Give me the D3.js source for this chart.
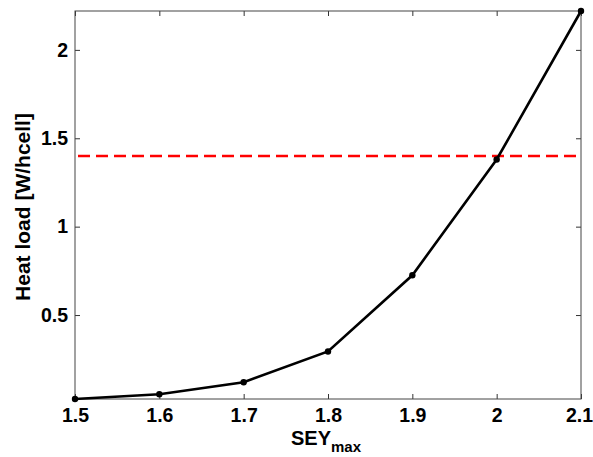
<!DOCTYPE html>
<html><head><meta charset="utf-8">
<script src="https://cdn.jsdelivr.net/npm/d3@7/dist/d3.min.js"></script>
<style>body{margin:0;background:#fff}svg{display:block}text{font-family:"Liberation Sans",Arial,sans-serif;font-weight:bold}</style>
</head><body>
<script>
const sey = [1.5, 1.6, 1.7, 1.8, 1.9, 2.0, 2.1];
const heatLoad = [0.025, 0.052, 0.12, 0.294, 0.725, 1.38, 2.22];
const threshold = 1.4;
const xTicks = [1.5, 1.6, 1.7, 1.8, 1.9, 2.0, 2.1];
const yTicks = [0.5, 1, 1.5, 2];

const W = 593, H = 457;
const m = {left: 75, top: 11, right: 581, bottom: 399};
const svg = d3.select("body").append("svg").attr("width", W).attr("height", H);
const x = d3.scaleLinear().domain([1.5, 2.1]).range([m.left, m.right]);
const y = d3.scaleLinear().domain([0.025, 2.22]).range([m.bottom, m.top]);

const fmt = d => d3.format("")(+d.toFixed(1));
const tl = 5;
const gB = svg.append("g").attr("transform", `translate(0,${m.bottom})`)
  .call(d3.axisBottom(x).tickValues(xTicks).tickFormat(fmt).tickSizeInner(-tl).tickSizeOuter(0).tickPadding(9));
const gT = svg.append("g").attr("transform", `translate(0,${m.top})`)
  .call(d3.axisTop(x).tickValues(xTicks).tickFormat("").tickSizeInner(-tl).tickSizeOuter(0));
const gL = svg.append("g").attr("transform", `translate(${m.left},0)`)
  .call(d3.axisLeft(y).tickValues(yTicks).tickFormat(fmt).tickSizeInner(-tl).tickSizeOuter(0).tickPadding(7));
const gR = svg.append("g").attr("transform", `translate(${m.right},0)`)
  .call(d3.axisRight(y).tickValues(yTicks).tickFormat("").tickSizeInner(-tl).tickSizeOuter(0));
[gB, gT, gL, gR].forEach(g => {
  g.select(".domain").remove();
  g.selectAll(".tick line").attr("stroke", "#333").attr("stroke-width", 1);
  g.selectAll("text").attr("font-size", 19.5).attr("fill", "#000").attr("font-family", null);
});
gB.selectAll(".tick text").filter(d => d === 2.1).attr("dx", -2);
svg.append("rect").attr("x", m.left).attr("y", m.top).attr("width", m.right - m.left).attr("height", m.bottom - m.top)
  .attr("fill", "none").attr("stroke", "#444").attr("stroke-width", 1);

svg.append("line").attr("x1", m.left + 3).attr("x2", m.right).attr("y1", y(threshold)).attr("y2", y(threshold))
  .attr("stroke", "#ff0000").attr("stroke-width", 2.5).attr("stroke-dasharray", "12,6");

const pts = sey.map((s, i) => [s, heatLoad[i]]);
svg.append("path").datum(pts).attr("fill", "none").attr("stroke", "#000").attr("stroke-width", 2.6)
  .attr("d", d3.line().x(d => x(d[0])).y(d => y(d[1])));
svg.selectAll("circle.pt").data(pts).enter().append("circle").attr("class", "pt")
  .attr("cx", d => x(d[0])).attr("cy", d => y(d[1])).attr("r", 3.2).attr("fill", "#000");

const xl = svg.append("text").attr("x", 326).attr("y", 445).attr("text-anchor", "middle").attr("font-size", 20);
xl.append("tspan").text("SEY");
xl.append("tspan").text("max").attr("font-size", 15).attr("dy", 7);
svg.append("text").attr("transform", `translate(30,${(m.top + m.bottom) / 2 + 2}) rotate(-90)`)
  .attr("text-anchor", "middle").attr("font-size", 21).text("Heat load [W/hcell]");
</script>
</body></html>
